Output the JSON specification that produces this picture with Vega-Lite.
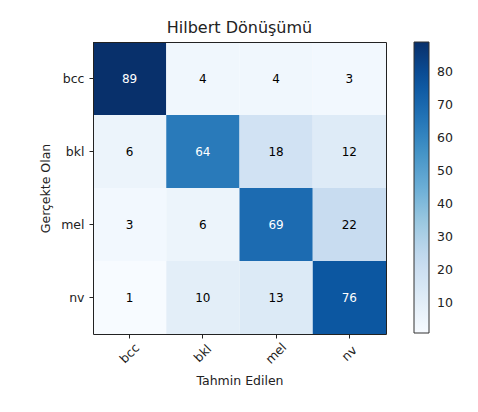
{
  "$schema": "https://vega.github.io/schema/vega-lite/v6.json",
  "width": 293,
  "height": 292,
  "autosize": {"type": "none"},
  "padding": {"left": 93, "top": 42, "right": 92, "bottom": 78},
  "background": "white",
  "config": {
    "font": "DejaVu Sans",
    "view": {"stroke": null}
  },
  "title": {"text": "Hilbert Dönüşümü", "fontSize": 16, "fontWeight": "normal", "color": "#222", "offset": 6, "anchor": "middle"},
  "data": {"values": [
    {"actual": "bcc", "predicted": "bcc", "value": 89},
    {"actual": "bcc", "predicted": "bkl", "value": 4},
    {"actual": "bcc", "predicted": "mel", "value": 4},
    {"actual": "bcc", "predicted": "nv", "value": 3},
    {"actual": "bkl", "predicted": "bcc", "value": 6},
    {"actual": "bkl", "predicted": "bkl", "value": 64},
    {"actual": "bkl", "predicted": "mel", "value": 18},
    {"actual": "bkl", "predicted": "nv", "value": 12},
    {"actual": "mel", "predicted": "bcc", "value": 3},
    {"actual": "mel", "predicted": "bkl", "value": 6},
    {"actual": "mel", "predicted": "mel", "value": 69},
    {"actual": "mel", "predicted": "nv", "value": 22},
    {"actual": "nv", "predicted": "bcc", "value": 1},
    {"actual": "nv", "predicted": "bkl", "value": 10},
    {"actual": "nv", "predicted": "mel", "value": 13},
    {"actual": "nv", "predicted": "nv", "value": 76}
  ]},
  "resolve": {"axis": {"x": "independent", "y": "independent"}},
  "layer": [
    {
      "mark": {"type": "rect"},
      "encoding": {
        "x": {"field": "predicted", "type": "nominal", "sort": ["bcc", "bkl", "mel", "nv"],
          "scale": {"paddingInner": 0, "paddingOuter": 0},
          "axis": {"title": "Tahmin Edilen", "titleFontSize": 12.5, "titleFontWeight": "normal", "titleColor": "#222", "titlePadding": 9,
            "labelAngle": -45, "labelAlign": "center", "labelBaseline": "middle", "labelPadding": 15, "labelFontSize": 12.5, "labelColor": "#222",
            "tickSize": 4, "tickColor": "#222", "domain": true, "domainColor": "#222", "zindex": 1}},
        "y": {"field": "actual", "type": "nominal", "sort": ["bcc", "bkl", "mel", "nv"],
          "scale": {"paddingInner": 0, "paddingOuter": 0},
          "axis": {"title": "Gerçekte Olan", "titleFontSize": 12.5, "titleFontWeight": "normal", "titleColor": "#222", "titlePadding": 8,
            "labelAngle": 0, "labelFontSize": 12.5, "labelColor": "#222", "labelPadding": 5,
            "tickSize": 4, "tickColor": "#222", "domain": true, "domainColor": "#222", "zindex": 1}},
        "color": {"field": "value", "type": "quantitative",
          "scale": {"domain": [1, 89], "range": ["#f7fbff", "#deebf7", "#c6dbef", "#9ecae1", "#6baed6", "#4292c6", "#2171b5", "#08519c", "#08306b"]},
          "legend": {"title": null, "gradientLength": 291, "gradientThickness": 15, "offset": 28,
            "values": [10, 20, 30, 40, 50, 60, 70, 80], "labelFontSize": 12.5, "labelColor": "#222",
            "gradientStrokeColor": "#333", "gradientStrokeWidth": 1, "labelOffset": 8, "direction": "vertical"}}
      }
    },
    {
      "mark": {"type": "text", "fontSize": 12},
      "encoding": {
        "x": {"field": "predicted", "type": "nominal", "sort": ["bcc", "bkl", "mel", "nv"],
          "axis": {"orient": "top", "title": null, "labels": false, "ticks": false, "domain": true, "domainColor": "#222", "zindex": 1}},
        "y": {"field": "actual", "type": "nominal", "sort": ["bcc", "bkl", "mel", "nv"],
          "axis": {"orient": "right", "title": null, "labels": false, "ticks": false, "domain": true, "domainColor": "#222", "zindex": 1}},
        "text": {"field": "value", "type": "quantitative"},
        "color": {"condition": {"test": "datum.value > 44.5", "value": "white"}, "value": "black"}
      }
    }
  ]
}
